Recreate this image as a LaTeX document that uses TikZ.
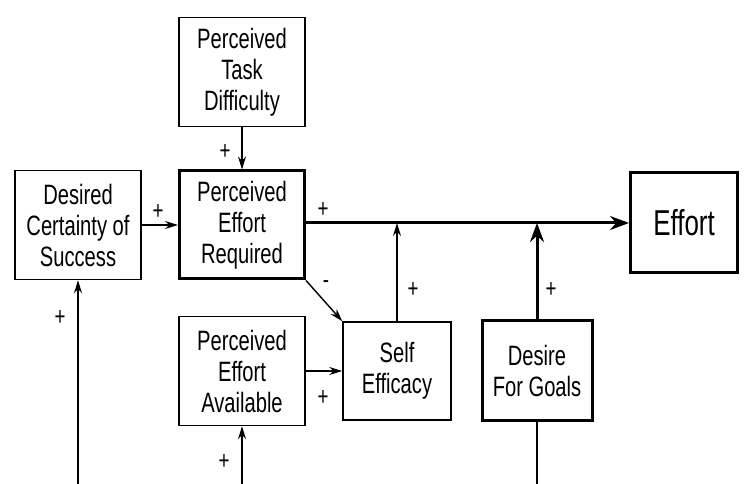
\documentclass[tikz,border=0pt]{standalone}
\usepackage{fontspec}
\setmainfont{Liberation Sans}[FakeStretch=0.72]
\usetikzlibrary{arrows.meta}
\begin{document}
\begin{tikzpicture}[x=1pt,y=1pt,
  box/.style={draw,line width=1.5pt,align=center,inner sep=0pt,font=\fontsize{28}{31}\selectfont},
  bigbox/.style={box,line width=3pt},
  sign/.style={font=\fontsize{26}{28}\selectfont},
  arr/.style={line width=1.4pt,-{Stealth[length=13pt,width=8pt]}},
  bigarr/.style={line width=3pt,-{Stealth[length=19pt,width=14pt]}}]
\useasboundingbox (0,0) rectangle (744,484);

\node[box,minimum width=126pt,minimum height=109pt] (ptd) at (242,412) {Perceived\\Task\\Difficulty};
\node[bigbox,minimum width=125pt,minimum height=108pt] (per) at (242,259) {Perceived\\Effort\\Required};
\node[box,minimum width=126pt,minimum height=109pt] (dcs) at (78,259) {Desired\\Certainty of\\Success};
\node[box,minimum width=126pt,minimum height=109pt] (pea) at (242,113) {Perceived\\Effort\\Available};
\node[box,minimum width=108pt,minimum height=98pt] (se) at (397,113) {Self\\Efficacy};
\node[bigbox,minimum width=110pt,minimum height=100pt] (dfg) at (537,113) {Desire\\For Goals};
\node[bigbox,minimum width=107pt,minimum height=100pt,font=\fontsize{36}{40}\selectfont] (eff) at (684,261) {Effort};

\coordinate (jse) at (se.north |- eff.west);
\coordinate (jdfg) at (dfg.north |- eff.west);
\coordinate (bdcs) at (dcs.south |- 0,0);
\coordinate (bpea) at (pea.south |- 0,0);
\coordinate (bdfg) at (dfg.south |- 0,0);

\draw[arr] (ptd) -- (per);
\draw[arr] (dcs) -- (per);
\draw[bigarr] (per.east |- eff.west) -- (eff.west);
\draw[arr] (per.south east) -- (se.north west);
\draw[arr] (pea) -- (se);
\draw[arr] (se) -- (jse);
\draw[bigarr] (dfg) -- (jdfg);
\draw[arr] (bdcs) -- (dcs);
\draw[arr] (bpea) -- (pea);
\draw[line width=1.4pt] (dfg) -- (bdfg);

\node[sign] at (225,332) {+};
\node[sign] at (158,272) {+};
\node[sign] at (323,274) {+};
\node[sign] at (326,199) {-};
\node[sign] at (413,194) {+};
\node[sign] at (551,194) {+};
\node[sign] at (323,86) {+};
\node[sign] at (224,22) {+};
\node[sign] at (60,166) {+};
\end{tikzpicture}
\end{document}
